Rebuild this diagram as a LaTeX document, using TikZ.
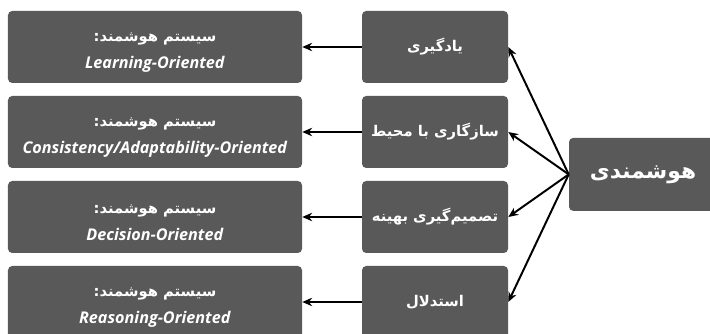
\documentclass[tikz,border=0pt]{standalone}
\usepackage{fontspec}
\setmainfont{Open Sans}
\newfontfamily\farsi[Script=Arabic]{DejaVu Sans}
\TeXXeTstate=1
\usetikzlibrary{arrows.meta,positioning}
\definecolor{boxgray}{RGB}{89,89,89}

\begin{document}
\begin{tikzpicture}
[
	box/.style={rectangle,rounded corners=3pt,fill=boxgray,text=white,font=\bfseries,align=center,inner sep=0pt},
	sysbox/.style={box,minimum width=7.35cm,minimum height=1.8cm,font=\bfseries\fontsize{11.5}{19}\selectfont},
	featbox/.style={box,minimum width=3.65cm,minimum height=1.8cm,font=\bfseries\fontsize{10.5}{13}\selectfont},
	arr/.style={-{Stealth[length=7pt,width=6pt]},line width=1.4pt},
]
	\useasboundingbox (0,0) rectangle (17.75,8.35);

	% main box
	\node[box,minimum width=3.7cm,minimum height=1.825cm,font=\bfseries\fontsize{15.5}{20}\selectfont] (root) at (16.075,3.99) {\farsi\beginR هوشمندی\endR};

	% features
	\node[featbox] (m1) at (10.875,7.175) {\farsi\beginR یادگیری\endR};
	\node[featbox] (m2) at (10.875,5.05) {\farsi\beginR سازگاری با محیط\endR};
	\node[featbox] (m3) at (10.875,2.925) {\farsi\beginR تصمیم^^^^200cگیری بهینه\endR};
	\node[featbox] (m4) at (10.875,0.8) {\farsi\beginR استدلال\endR};

	% systems
	\node[sysbox] (s1) at (3.875,7.175) {{\rule{0pt}{14pt}\farsi\fontsize{10.5}{19}\selectfont\beginR سیستم هوشمند:\endR}\\\textit{Learning-Oriented}};
	\node[sysbox] (s2) at (3.875,5.05) {{\rule{0pt}{14pt}\farsi\fontsize{10.5}{19}\selectfont\beginR سیستم هوشمند:\endR}\\\textit{Consistency/Adaptability-Oriented}};
	\node[sysbox] (s3) at (3.875,2.925) {{\rule{0pt}{14pt}\farsi\fontsize{10.5}{19}\selectfont\beginR سیستم هوشمند:\endR}\\\textit{Decision-Oriented}};
	\node[sysbox] (s4) at (3.875,0.8) {{\rule{0pt}{14pt}\farsi\fontsize{10.5}{19}\selectfont\beginR سیستم هوشمند:\endR}\\\textit{Reasoning-Oriented}};

	\foreach \i in {1,...,4}{
		\draw[arr] (root.west) -- (m\i.east);
		\draw[arr] (m\i.west) -- (s\i.east);
	}
\end{tikzpicture}
\end{document}
